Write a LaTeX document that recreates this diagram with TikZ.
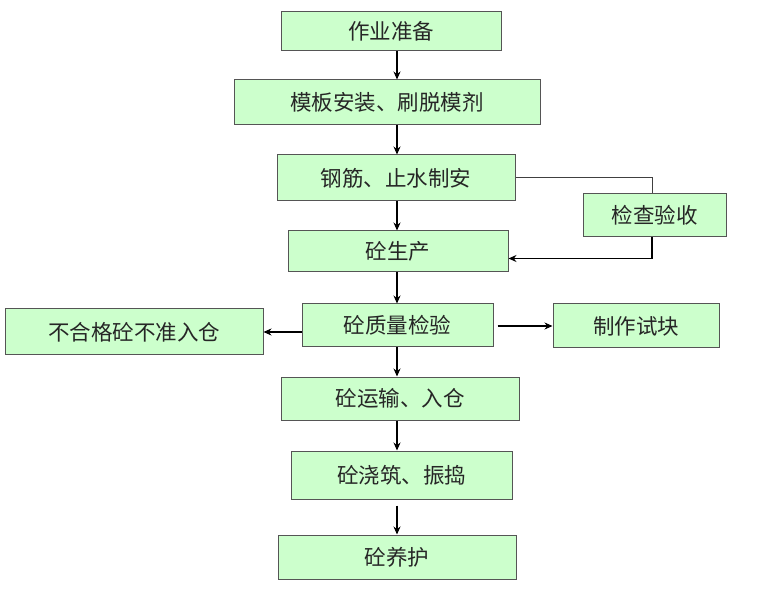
\documentclass[tikz,border=0pt]{standalone}
\usepackage{fontspec}
\newfontfamily\cjk{Noto Sans CJK SC}
\usetikzlibrary{arrows.meta}
\definecolor{boxfill}{HTML}{CCFFCC}
\definecolor{boxline}{HTML}{555555}
\tikzset{
  stepbox/.style={draw=boxline, fill=boxfill, line width=1pt, inner sep=0pt,
    font=\cjk\fontsize{21.5}{21.5}\selectfont, text=black!85},
  arr/.style={-{Stealth[length=8pt,width=7pt]}, line width=1.1pt, black},
  plainline/.style={line width=1pt, black!75}
}
\begin{document}
\begin{tikzpicture}[x=1pt,y=-1pt]
\useasboundingbox (0,0) rectangle (760,593);
\node[stepbox, minimum width=220pt, minimum height=39pt] (prep) at (391,31.5) {作业准备};
\node[stepbox, minimum width=306pt, minimum height=45pt] (mold) at (387,102.5) {模板安装、刷脱模剂};
\node[stepbox, minimum width=238pt, minimum height=46pt] (rebar) at (396,178) {钢筋、止水制安};
\node[stepbox, minimum width=143pt, minimum height=43pt] (check) at (654.5,215.5) {检查验收};
\node[stepbox, minimum width=220pt, minimum height=41pt] (prod) at (398,251.5) {砼生产};
\node[stepbox, minimum width=191pt, minimum height=43pt] (qc) at (397.5,325.5) {砼质量检验};
\node[stepbox, minimum width=258pt, minimum height=46pt] (reject) at (134,332) {不合格砼不准入仓};
\node[stepbox, minimum width=166pt, minimum height=44pt] (sample) at (636,326) {制作试块};
\node[stepbox, minimum width=238pt, minimum height=43pt] (trans) at (400,398.5) {砼运输、入仓};
\node[stepbox, minimum width=221pt, minimum height=48pt] (pour) at (401.5,475) {砼浇筑、振捣};
\node[stepbox, minimum width=238pt, minimum height=44pt] (cure) at (397,557) {砼养护};
\coordinate (ax) at (397,0);
\coordinate (cx) at (652,0);
\draw[arr] (prep.south -| ax) -- (mold.north -| ax);
\draw[arr] (mold.south -| ax) -- (rebar.north -| ax);
\draw[arr] (rebar.south -| ax) -- (prod.north -| ax);
\draw[arr] (prod.south -| ax) -- (qc.north -| ax);
\draw[arr] (qc.south -| ax) -- (trans.north -| ax);
\draw[arr] (trans.south -| ax) -- (pour.north -| ax);
\draw[arr, shorten <=6pt] (pour.south -| ax) -- (cure.north -| ax);
\draw[plainline] (rebar.east) -- (rebar.east -| cx) -- (check.north -| cx);
\draw[arr] (check.south -| cx) -- ++(0,21) coordinate (cb) -- (cb -| prod.east);
\draw[arr] (qc.west |- reject.east) -- (reject.east);
\draw[arr, shorten <=4pt] (qc.east |- sample.west) -- (sample.west);
\end{tikzpicture}
\end{document}
